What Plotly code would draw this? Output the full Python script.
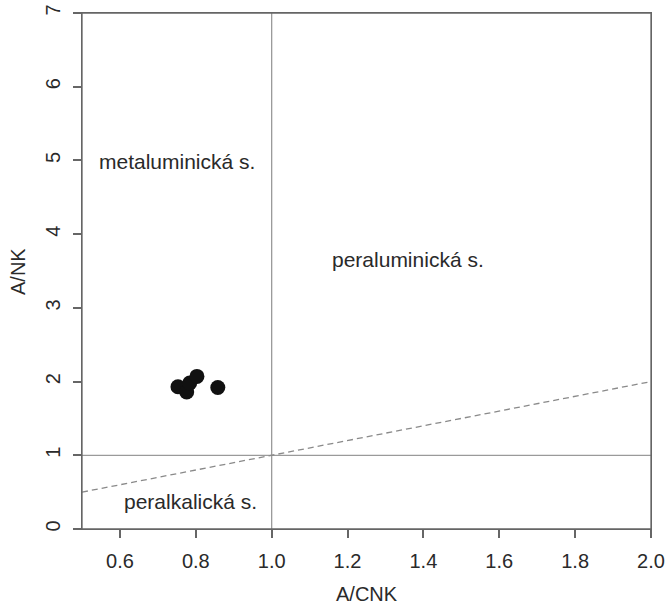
import plotly.graph_objects as go

# Sample points (A/CNK, A/NK)
acnk = [0.753, 0.776, 0.784, 0.803, 0.858]
ank = [1.93, 1.86, 1.98, 2.07, 1.92]

# Field boundaries
vline_x = [1.0, 1.0]
vline_y = [0.0, 7.0]
hline_x = [0.5, 2.0]
hline_y = [1.0, 1.0]
diag_x = [0.5, 2.0]
diag_y = [0.5, 2.0]

# Field labels
field_text = ["metaluminická s.", "peraluminická s.", "peralkalická s."]
field_x = [0.75, 1.36, 0.787]
field_y = [4.99, 3.65, 0.37]

xticks = [0.6, 0.8, 1.0, 1.2, 1.4, 1.6, 1.8, 2.0]
xticklabels = ["0.6", "0.8", "1.0", "1.2", "1.4", "1.6", "1.8", "2.0"]
yticks = [0, 1, 2, 3, 4, 5, 6, 7]
yticklabels = ["0", "1", "2", "3", "4", "5", "6", "7"]

FONT = "Liberation Sans, Arial, sans-serif"
TXT = "#2a2a2a"
AX = "#666666"

fig = go.Figure()
fig.add_trace(go.Scatter(x=vline_x, y=vline_y, mode="lines",
                         line=dict(color="#9a9a9a", width=1.3), hoverinfo="skip"))
fig.add_trace(go.Scatter(x=hline_x, y=hline_y, mode="lines",
                         line=dict(color="#9a9a9a", width=1.3), hoverinfo="skip"))
fig.add_trace(go.Scatter(x=diag_x, y=diag_y, mode="lines",
                         line=dict(color="#8a8a8a", width=1.3, dash="6px,4px"), hoverinfo="skip"))
fig.add_trace(go.Scatter(x=acnk, y=ank, mode="markers",
                         marker=dict(size=15, color="#111111", line=dict(width=0))))

for t, x, y in zip(field_text, field_x, field_y):
    fig.add_annotation(x=x, y=y, text=t, showarrow=False,
                       font=dict(family=FONT, size=21, color=TXT),
                       xanchor="center", yanchor="middle")

# Axis titles
fig.add_annotation(xref="paper", yref="paper", x=0.5, y=-0.126, text="A/CNK",
                   showarrow=False, xanchor="center", yanchor="middle",
                   font=dict(family=FONT, size=20, color=TXT))
fig.add_annotation(xref="paper", yref="paper", x=-0.1125, y=0.5, text="A/NK",
                   showarrow=False, xanchor="center", yanchor="middle", textangle=-90,
                   font=dict(family=FONT, size=20, color=TXT))

# Plot frame
fig.add_shape(type="rect", xref="paper", yref="paper", x0=0, y0=0, x1=1, y1=1,
              line=dict(color=AX, width=1.3), layer="above")

fig.update_layout(
    width=670, height=605,
    margin=dict(l=82, r=19, t=13, b=76),
    paper_bgcolor="white", plot_bgcolor="white",
    showlegend=False,
    font=dict(family=FONT, size=20, color=TXT),
)
fig.update_xaxes(range=[0.5, 2.0], tickvals=xticks, ticktext=xticklabels,
                 showgrid=False, zeroline=False, showline=True, mirror=True,
                 linecolor=AX, linewidth=1.3, ticks="outside", ticklen=8,
                 tickcolor=AX, tickwidth=1.5, automargin=False, ticklabelstandoff=6,
                 tickfont=dict(family=FONT, size=20, color=TXT))
fig.update_yaxes(range=[0, 7], tickvals=yticks, ticktext=yticklabels, tickangle=-90,
                 showgrid=False, zeroline=False, showline=True, mirror=True,
                 linecolor=AX, linewidth=1.3, ticks="outside", ticklen=8,
                 tickcolor=AX, tickwidth=1.5, automargin=False, ticklabelstandoff=5,
                 ticklabeloverflow="allow",
                 tickfont=dict(family=FONT, size=20, color=TXT))

fig.write_html("out.html", config={"displayModeBar": False},
               post_script="document.body.style.margin='0';")
